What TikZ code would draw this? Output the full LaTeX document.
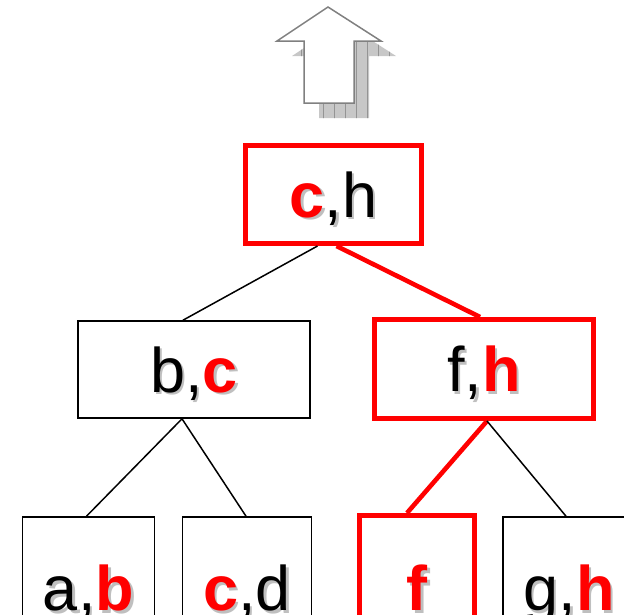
\documentclass[tikz,border=0pt]{standalone}
\usepackage{fontspec}
\setmainfont{Liberation Sans}
\usetikzlibrary{calc}

% highlighted key letter, and a label with a soft drop shadow
\colorlet{hlcol}{red}
\newcommand\hl[1]{{\color{hlcol}\bfseries #1}}
\newcommand\shtxt[1]{\rlap{\hspace*{2.5pt}\raisebox{-2.5pt}{\colorlet{hlcol}{black!25}\color{black!25}#1}}#1}

\begin{document}
\begin{tikzpicture}[x=1pt, y=-1pt,
  keybox/.style={draw, line width=1.6pt, minimum width=#1, minimum height=97pt,
    inner sep=0pt, text height=45pt, text depth=0pt, font=\fontsize{63}{70}\selectfont},
  hotbox/.style={keybox=#1, draw=red, line width=5pt},
  link/.style={line width=1.5pt},
  hotlink/.style={red, line width=4.6pt},
]
  \useasboundingbox (0,0) rectangle (624,614);
  \clip (0,0) rectangle (624,614);

  % hollow up arrow with a hatched shadow
  \begin{scope}[shift={(15,15)}]
    \clip (328,7) -- (381,41) -- (354,41) -- (354,103) -- (304,103) -- (304,41) -- (277,41) -- cycle;
    \fill[black!22] (270,0) rectangle (400,125);
    \draw[black!42, line width=0.8pt, step=11] (269.5,-0.5) grid (400,125);
  \end{scope}
  \draw[black!50, line width=1.5pt, fill=white]
    (328,7) -- (381,41) -- (354,41) -- (354,103) -- (304,103) -- (304,41) -- (277,41) -- cycle;

  % tree
  \node[hotbox=176pt, minimum height=98pt] (root) at (333.5,194.5) {\shtxt{\hl{c},h}};

  \node[keybox=232pt] (bc) at (194,369.5) {\shtxt{b,\hl{c}}};
  \node[hotbox=219pt, minimum height=99pt] (fh) at (484,369) {\shtxt{f,\hl{h}}};

  \node[keybox=132pt, minimum height=142pt] (ab) at (88.5,588) {\shtxt{a,\hl{b}}};
  \node[keybox=129pt, minimum height=142pt] (cd) at (247,588) {\shtxt{\hl{c},d}};
  \node[hotbox=115pt, minimum height=145pt] (f) at (417,588) {\shtxt{\hl{f}}};
  \node[keybox=132pt, minimum height=142pt] (gh) at (569,588) {\shtxt{g,\hl{h}}};

  \draw[link] ([xshift=-16pt]root.south) -- ([xshift=-11pt]bc.north);
  \draw[hotlink] ([xshift=3pt]root.south) -- ([xshift=-4pt]fh.north);

  \draw[link] ([xshift=-12pt]bc.south) -- ([xshift=-2pt]ab.north);
  \draw[link] ([xshift=-12pt]bc.south) -- ([xshift=-1pt]cd.north);

  \draw[hotlink] ([xshift=3pt]fh.south) -- ([xshift=-10pt]f.north);
  \draw[link] ([xshift=3pt]fh.south) -- ([xshift=-3pt]gh.north);
\end{tikzpicture}
\end{document}
